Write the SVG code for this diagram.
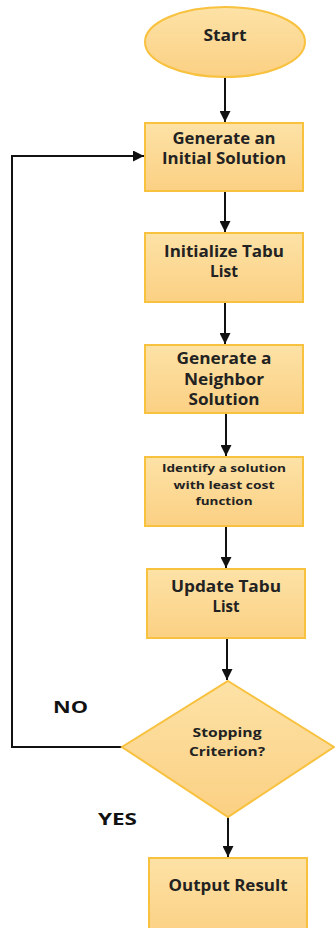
<svg xmlns="http://www.w3.org/2000/svg" width="335" height="928" viewBox="0 0 335 928">
  <defs>
    <linearGradient id="fillGrad" x1="0" y1="0" x2="0" y2="1">
      <stop offset="0" stop-color="#FDE2A6"/>
      <stop offset="1" stop-color="#FBD083"/>
    </linearGradient>
    <marker id="arrow" viewBox="0 0 10 10" refX="10" refY="5" markerWidth="5.5" markerHeight="5.5" orient="auto" markerUnits="strokeWidth">
      <path d="M0,0 L10,5 L0,10 z" fill="#111"/>
    </marker>
    <style>
      .shape { fill: url(#fillGrad); stroke: #F8C13E; stroke-width: 2; }
      .label { font-family: "Open Sans", "Liberation Sans", sans-serif; font-weight: bold; fill: #222; text-anchor: middle; }
      .edge { stroke: #111; stroke-width: 2; fill: none; marker-end: url(#arrow); }
      .side { font-family: "Open Sans", "Liberation Sans", sans-serif; font-weight: bold; fill: #111; font-size: 15.5px; }
    </style>
  </defs>

  <g id="connectors">
    <line class="edge" x1="225" y1="78" x2="225" y2="122"/>
    <line class="edge" x1="225" y1="191" x2="225" y2="232"/>
    <line class="edge" x1="225" y1="302" x2="225" y2="344"/>
    <line class="edge" x1="226" y1="413" x2="226" y2="456"/>
    <line class="edge" x1="226" y1="526" x2="226" y2="568"/>
    <line class="edge" x1="227" y1="638" x2="227" y2="680"/>
    <polyline class="edge" points="122,747 12,747 12,156 144,156"/>
    <line class="edge" x1="228" y1="817" x2="228" y2="857"/>
  </g>

  <g id="start">
    <ellipse class="shape" cx="225" cy="42" rx="80" ry="35"/>
    <text class="label" x="225" y="41" font-size="16" textLength="43" lengthAdjust="spacingAndGlyphs">Start</text>
  </g>

  <g id="initial-solution">
    <rect class="shape" x="145" y="123" width="158" height="68"/>
    <text class="label" x="224" y="144" font-size="15.5" textLength="103" lengthAdjust="spacingAndGlyphs">Generate an</text>
    <text class="label" x="224" y="164" font-size="15.5" textLength="124" lengthAdjust="spacingAndGlyphs">Initial Solution</text>
  </g>

  <g id="init-tabu">
    <rect class="shape" x="145" y="233" width="158" height="69"/>
    <text class="label" x="224" y="257" font-size="15.5" textLength="120" lengthAdjust="spacingAndGlyphs">Initialize Tabu</text>
    <text class="label" x="224" y="277" font-size="15.5" textLength="28" lengthAdjust="spacingAndGlyphs">List</text>
  </g>

  <g id="neighbor">
    <rect class="shape" x="145" y="345" width="158" height="68"/>
    <text class="label" x="224" y="364" font-size="15.5" textLength="95" lengthAdjust="spacingAndGlyphs">Generate a</text>
    <text class="label" x="224" y="385" font-size="15.5" textLength="80" lengthAdjust="spacingAndGlyphs">Neighbor</text>
    <text class="label" x="224" y="405" font-size="15.5" textLength="71" lengthAdjust="spacingAndGlyphs">Solution</text>
  </g>

  <g id="least-cost">
    <rect class="shape" x="145" y="457" width="158" height="69"/>
    <text class="label" x="224" y="472" font-size="11" textLength="124" lengthAdjust="spacingAndGlyphs">Identify a solution</text>
    <text class="label" x="224" y="489" font-size="11" textLength="101" lengthAdjust="spacingAndGlyphs">with least cost</text>
    <text class="label" x="224" y="505" font-size="11" textLength="57" lengthAdjust="spacingAndGlyphs">function</text>
  </g>

  <g id="update-tabu">
    <rect class="shape" x="147" y="569" width="158" height="69"/>
    <text class="label" x="226" y="592" font-size="16" textLength="110" lengthAdjust="spacingAndGlyphs">Update Tabu</text>
    <text class="label" x="226" y="612" font-size="16" textLength="27" lengthAdjust="spacingAndGlyphs">List</text>
  </g>

  <g id="stopping">
    <polygon class="shape" points="228,681 334,747 228,817 122,747"/>
    <text class="label" x="227" y="737" font-size="12.5" textLength="69" lengthAdjust="spacingAndGlyphs">Stopping</text>
    <text class="label" x="227" y="756" font-size="12.5" textLength="76" lengthAdjust="spacingAndGlyphs">Criterion?</text>
  </g>

  <g id="output">
    <rect class="shape" x="149" y="858" width="158" height="80"/>
    <text class="label" x="228" y="891" font-size="15.5" textLength="119" lengthAdjust="spacingAndGlyphs">Output Result</text>
  </g>

  <text class="side" x="53" y="713" textLength="35" lengthAdjust="spacingAndGlyphs">NO</text>
  <text class="side" x="98" y="825" textLength="39" lengthAdjust="spacingAndGlyphs">YES</text>
</svg>
